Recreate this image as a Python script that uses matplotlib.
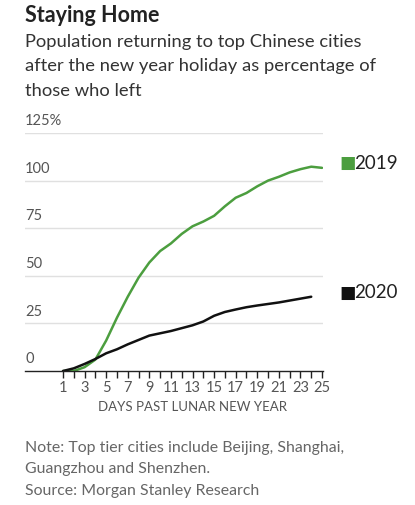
import matplotlib
matplotlib.use("Agg")
import matplotlib.pyplot as plt
from matplotlib.ticker import FixedLocator

days_2019 = list(range(1, 26))
vals_2019 = [0, 0, 2, 6, 16, 28, 39, 49, 57, 63, 67, 72, 76, 78.5, 81.5, 86.5, 91, 93.5, 97, 100, 102, 104.3, 106, 107.3, 106.7]
days_2020 = list(range(1, 25))
vals_2020 = [0, 1.4, 3.7, 6.3, 9.3, 11.4, 14, 16.3, 18.6, 19.8, 21, 22.5, 24, 26, 29, 31, 32.3, 33.5, 34.4, 35.2, 36, 37, 38, 39]
series_labels = ["2019", "2020"]
y_ticks = [0, 25, 50, 75, 100, 125]
y_tick_labels = ["0", "25", "50", "75", "100", "125%"]
x_ticks_major = list(range(1, 26, 2))

GREEN = "#4c9e3f"
BLACK = "#111111"
GREY = "#666666"
FONT = "Lato"

plt.rcParams['font.family'] = [FONT, 'DejaVu Sans']

fig = plt.figure(figsize=(4.15, 5.05), dpi=100)
ax = fig.add_axes([25/415, 1-371/505, 298/415, 238/505])

for yv in y_ticks[1:]:
    ax.axhline(yv, color="#e0e0e0", lw=1, zorder=1)

ax.plot(days_2019, vals_2019, color=GREEN, lw=1.8, zorder=3, solid_capstyle='round')
ax.plot(days_2020, vals_2020, color=BLACK, lw=1.8, zorder=3, solid_capstyle='round')

ax.set_xlim(-2.52, 25.09)
ax.set_ylim(0, 125)

for s in ["top", "right", "left"]:
    ax.spines[s].set_visible(False)
ax.spines["bottom"].set_color("#222222")
ax.spines["bottom"].set_linewidth(1)
ax.spines["bottom"].set_zorder(4)

ax.set_yticks([])
ax.xaxis.set_major_locator(FixedLocator(x_ticks_major))
ax.xaxis.set_minor_locator(FixedLocator(list(range(2, 25, 2))))
ax.tick_params(axis='x', which='both', direction='out', length=5, width=1, color="#222222")
ax.tick_params(axis='x', which='major', labelsize=10.5, labelcolor="#555555", pad=2)
ax.set_xticklabels([str(d) for d in x_ticks_major])

for yv, lab in zip(y_ticks, y_tick_labels):
    ax.text(0, yv + 2.5, lab, transform=ax.get_yaxis_transform(), ha='left', va='bottom',
            fontsize=10.5, color="#555555")

ax.set_xlabel("DAYS PAST LUNAR NEW YEAR", fontsize=9.5, color="#555555", labelpad=1)
ax.xaxis.set_label_coords((13 + 2.52) / (25.09 + 2.52), -0.125)

# legend-style labels
fig.text(339/415, 1-163/505, "\u25A0", color=GREEN, fontsize=12.5, va='center', ha='left', family=['DejaVu Sans'])
fig.text(354/415, 1-163/505, series_labels[0], color="#222222", fontsize=13.5, va='center', ha='left')
fig.text(339/415, 1-293/505, "\u25A0", color=BLACK, fontsize=12.5, va='center', ha='left', family=['DejaVu Sans'])
fig.text(354/415, 1-293/505, series_labels[1], color="#222222", fontsize=13.5, va='center', ha='left')

fig.text(25/415, 1-15/505, "Staying Home", fontsize=15.5, fontweight='bold', color="#222222", va='center', ha='left')
subtitle = ["Population returning to top Chinese cities",
            "after the new year holiday as percentage of",
            "those who left"]
for i, line in enumerate(subtitle):
    fig.text(25/415, 1-(42 + 24.5*i)/505, line, fontsize=13.2, color="#333333", va='center', ha='left')

notes = ["Note: Top tier cities include Beijing, Shanghai,",
         "Guangzhou and Shenzhen.",
         "Source: Morgan Stanley Research"]
for i, line in enumerate(notes):
    fig.text(25/415, 1-(448 + 21.5*i)/505, line, fontsize=11.4, color=GREY, va='center', ha='left')

fig.savefig("out.png", dpi=100, facecolor="white")
